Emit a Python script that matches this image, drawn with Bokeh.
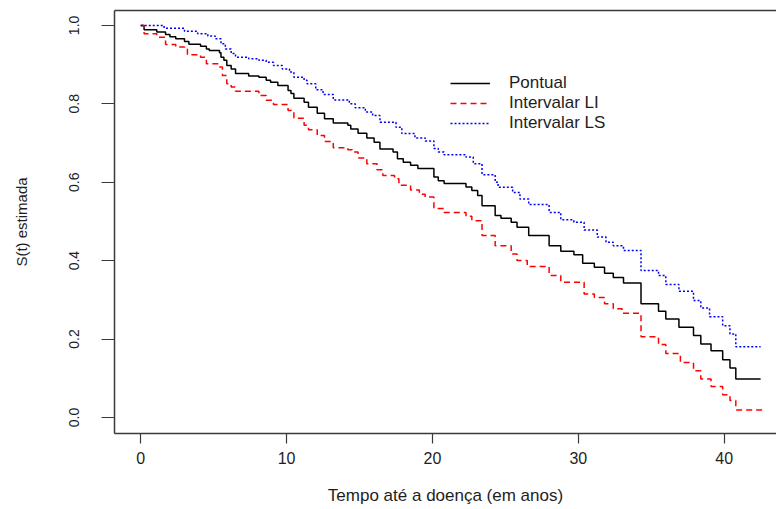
from bokeh.plotting import figure
from bokeh.models import (Range1d, LinearAxis, FixedTicker, PrintfTickFormatter,
                          Legend, LegendItem)
from bokeh.embed import file_html
from bokeh.resources import INLINE

# Kaplan-Meier estimate (Pontual) and confidence limits (LI, LS)
t_pontual = [0, 0.23, 1.1, 1.7, 2.0, 2.4, 3.0, 3.3, 4.1, 4.5, 4.7, 5.4, 5.5, 5.7, 5.9,
             6.2, 6.5, 7.4, 8.1, 8.6, 8.9, 9.4, 10.1, 10.3, 10.5, 11.2, 11.5, 12.1, 12.6,
             13.2, 14.2, 14.4, 14.9, 15.5, 16.0, 16.4, 17.3, 17.6, 18.0, 18.5, 19.0, 20.1,
             20.4, 20.8, 22.3, 22.7, 23.1, 23.4, 24.3, 24.7, 25.4, 25.8, 26.6, 28.0, 28.8,
             29.7, 30.3, 31.1, 31.8, 32.4, 33.1, 34.3, 35.5, 36.0, 36.9, 37.9, 38.4, 39.1,
             39.9, 40.4, 40.8, 42.5]
s_pontual = [1.0, 0.989, 0.983, 0.977, 0.971, 0.966, 0.959, 0.952, 0.947, 0.940, 0.936,
             0.930, 0.919, 0.911, 0.898, 0.889, 0.877, 0.871, 0.868, 0.860, 0.855, 0.847,
             0.834, 0.826, 0.814, 0.804, 0.791, 0.776, 0.762, 0.751, 0.745, 0.736, 0.725,
             0.713, 0.702, 0.685, 0.677, 0.660, 0.651, 0.643, 0.635, 0.613, 0.604, 0.597,
             0.588, 0.579, 0.566, 0.540, 0.515, 0.508, 0.498, 0.485, 0.464, 0.438, 0.424,
             0.415, 0.393, 0.383, 0.368, 0.357, 0.343, 0.290, 0.271, 0.251, 0.230, 0.209,
             0.187, 0.170, 0.147, 0.126, 0.098, 0.098]

t_li = [0, 0.23, 1.1, 1.7, 2.4, 3.0, 3.2, 4.1, 4.5, 5.4, 5.6, 5.9, 6.2, 6.5, 8.1, 8.6,
        9.1, 10.1, 10.5, 11.2, 11.5, 12.1, 12.6, 13.2, 14.2, 14.5, 14.9, 15.5, 16.2, 16.6,
        17.4, 17.7, 18.5, 19.1, 19.5, 20.1, 20.8, 22.3, 22.7, 23.4, 24.3, 25.4, 25.8, 26.5,
        28.0, 28.8, 30.4, 31.1, 31.8, 32.4, 33.0, 34.3, 35.5, 36.0, 37.0, 37.9, 38.4, 39.1,
        39.9, 40.4, 40.8, 42.6]
s_li = [1.0, 0.979, 0.970, 0.951, 0.945, 0.939, 0.925, 0.919, 0.902, 0.894, 0.872, 0.851,
        0.843, 0.832, 0.821, 0.809, 0.798, 0.783, 0.763, 0.745, 0.734, 0.719, 0.704, 0.688,
        0.683, 0.677, 0.662, 0.647, 0.632, 0.617, 0.609, 0.592, 0.580, 0.569, 0.562, 0.533,
        0.523, 0.513, 0.502, 0.464, 0.438, 0.417, 0.400, 0.385, 0.362, 0.345, 0.315, 0.306,
        0.290, 0.277, 0.266, 0.206, 0.186, 0.163, 0.140, 0.119, 0.098, 0.079, 0.058, 0.043,
        0.019, 0.019]

t_ls = [0, 1.6, 3.0, 3.9, 4.6, 5.1, 5.5, 5.8, 6.2, 6.5, 7.4, 8.1, 8.6, 9.1, 9.7, 10.2,
        10.5, 11.2, 11.4, 12.0, 12.5, 13.2, 14.3, 14.7, 15.4, 15.9, 16.4, 17.5, 17.9, 18.8,
        19.5, 20.1, 20.4, 20.8, 22.3, 22.8, 23.4, 24.3, 24.5, 25.5, 26.0, 26.6, 28.0, 28.8,
        29.7, 30.4, 31.3, 31.9, 32.4, 33.1, 34.3, 35.5, 36.0, 36.9, 37.9, 38.4, 39.0, 39.9,
        40.4, 40.8, 42.5]
s_ls = [1.0, 0.993, 0.985, 0.979, 0.973, 0.966, 0.953, 0.940, 0.928, 0.919, 0.915, 0.911,
        0.906, 0.898, 0.889, 0.881, 0.868, 0.860, 0.851, 0.836, 0.824, 0.810, 0.800, 0.790,
        0.779, 0.770, 0.753, 0.740, 0.724, 0.713, 0.705, 0.686, 0.677, 0.670, 0.664, 0.647,
        0.619, 0.600, 0.587, 0.574, 0.557, 0.543, 0.523, 0.504, 0.498, 0.478, 0.460, 0.447,
        0.438, 0.426, 0.375, 0.362, 0.339, 0.322, 0.298, 0.279, 0.257, 0.234, 0.213, 0.180,
        0.180]

x_ticks = [0, 10, 20, 30, 40]
y_ticks = [0.0, 0.2, 0.4, 0.6, 0.8, 1.0]
labels = ["Pontual", "Intervalar LI", "Intervalar LS"]

FONT = "Liberation Sans"
TXT = "#1e1e1e"
AX = "#3a3a3a"

p = figure(width=776, height=509, output_backend="svg", toolbar_location=None,
           x_range=Range1d(-1.80, 43.59), y_range=Range1d(-0.041, 1.038),
           min_border_left=114, min_border_right=0, min_border_top=10,
           min_border_bottom=76, x_axis_label="Tempo até a doença (em anos)",
           y_axis_label="S(t) estimada")
p.grid.visible = False
p.outline_line_color = None
p.background_fill_color = "white"
p.border_fill_color = "white"

r1 = p.step(t_pontual, s_pontual, mode="after", line_color="black", line_width=1.5)
r2 = p.step(t_li, s_li, mode="after", line_color="#ff0000", line_width=1.5,
            line_dash="6 4")
r3 = p.step(t_ls, s_ls, mode="after", line_color="#0000ff", line_width=1.5,
            line_dash="2 2")

xa = p.xaxis[0]
xa.ticker = FixedTicker(ticks=x_ticks)
xa.major_tick_out = 10
xa.major_tick_in = 0
xa.minor_tick_line_color = None
xa.major_label_text_font = FONT
xa.major_label_text_font_size = "16px"
xa.major_label_text_color = TXT
xa.major_label_standoff = 8
xa.axis_label_text_font = FONT
xa.axis_label_text_font_size = "17px"
xa.axis_label_text_font_style = "normal"
xa.axis_label_text_color = TXT
xa.axis_label_standoff = 19
xa.axis_line_color = AX
xa.axis_line_width = 1.5
xa.major_tick_line_color = AX
xa.major_tick_line_width = 1.2

ya = p.yaxis[0]
ya.ticker = FixedTicker(ticks=y_ticks)
ya.formatter = PrintfTickFormatter(format="%.1f")
ya.major_label_orientation = "vertical"
ya.major_tick_out = 13
ya.major_tick_in = 0
ya.minor_tick_line_color = None
ya.major_label_text_font = FONT
ya.major_label_text_font_size = "14px"
ya.major_label_text_color = TXT
ya.major_label_standoff = 22
ya.axis_label_text_font = FONT
ya.axis_label_text_font_size = "15px"
ya.axis_label_text_font_style = "normal"
ya.axis_label_text_color = TXT
ya.axis_label_standoff = 37
ya.axis_line_color = AX
ya.axis_line_width = 1.5
ya.major_tick_line_color = AX
ya.major_tick_line_width = 1.2

top = LinearAxis(major_tick_out=0, major_tick_in=0, minor_tick_out=0, minor_tick_in=0,
                 major_label_text_font_size="0px", major_tick_line_color=None,
                 minor_tick_line_color=None, axis_line_color=AX, axis_line_width=1.5,
                 major_label_standoff=0, ticker=FixedTicker(ticks=[]))
p.add_layout(top, "above")

legend = Legend(items=[LegendItem(label=labels[0], renderers=[r1]),
                       LegendItem(label=labels[1], renderers=[r2]),
                       LegendItem(label=labels[2], renderers=[r3])],
                location=(336, 300), border_line_color=None,
                background_fill_alpha=0, padding=0, margin=0,
                glyph_width=40, glyph_height=18, label_height=18,
                label_standoff=19, spacing=0,
                label_text_font=FONT, label_text_font_size="17px",
                label_text_color=TXT)
p.add_layout(legend)

open("out.html", "w").write(file_html(p, INLINE))
